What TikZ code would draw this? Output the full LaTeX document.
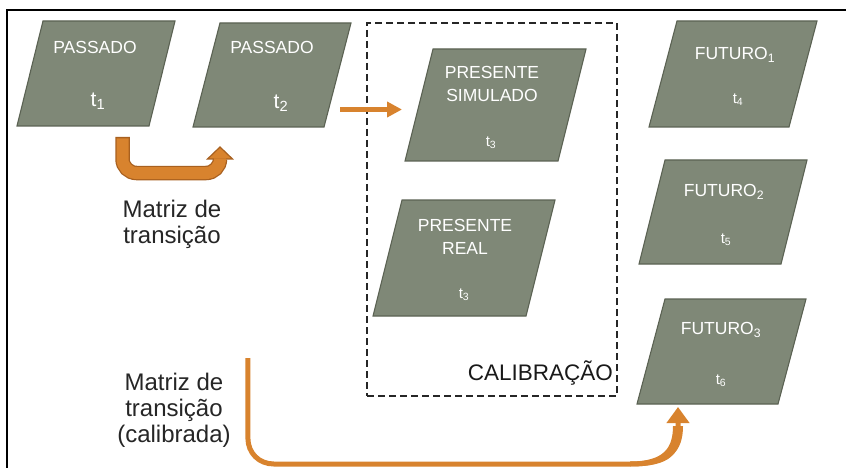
\documentclass[tikz,border=0pt]{standalone}
\usepackage{fontspec}
\setmainfont{Liberation Sans}
\usetikzlibrary{calc,arrows.meta}
\definecolor{pfill}{HTML}{7F8877}
\definecolor{pline}{HTML}{5B6253}
\definecolor{orng}{HTML}{D8832E}
\definecolor{orngd}{HTML}{A8601F}
\newcommand{\paraShape}[6]{%
  \node[pbox, minimum width=#4, minimum height=#5] (#1) at (#2,#3) {};
  \draw[pshape] ([xshift=#6]#1.north west) -- (#1.north east) -- ([xshift=-#6]#1.south east) -- (#1.south west) -- cycle;
}
\begin{document}
\begin{tikzpicture}[x=1pt,y=-1pt,
  pbox/.style={rectangle, draw=none, inner sep=0pt, outer sep=0pt},
  pshape/.style={fill=pfill, draw=pline, line width=1.1pt, line join=miter},
  ptitle/.style={text=white, inner sep=0pt, align=center, font=\fontsize{17.5}{23}\selectfont},
  tbig/.style={text=white, inner sep=0pt, font=\fontsize{21}{21}\selectfont},
  tsmall/.style={text=white, inner sep=0pt, font=\fontsize{15}{15}\selectfont},
  blabel/.style={text=black!85, inner sep=0pt, align=center, font=\fontsize{24}{26}\selectfont},
  dashbox/.style={rectangle, draw=black!85, line width=1.8pt, dash pattern=on 7pt off 4pt, inner sep=0pt},
  thinarrow/.style={draw=orng, line width=5pt, -{Triangle[length=15pt,width=15pt]}},
  longarrow/.style={draw=orng, line width=5pt, -{Triangle[length=16pt,width=22pt]}}
]
\useasboundingbox (0,0) rectangle (846,468);
\fill[white] (0,0) rectangle (846,468);
% frame
\draw[line width=2.5pt, black] (7,468) -- (7,10) -- (846,10);

% dashed calibration box
\node[dashbox, minimum width=250pt, minimum height=373pt] (cal) at (492,209.5) {};
\node[inner sep=0pt, anchor=base east, font=\fontsize{22.5}{24}\selectfont, text=black!90] (calt) at (613,380) {CALIBRAÇÃO};

% parallelograms
\paraShape{p1}{96}{73.5}{158}{105}{26}
\paraShape{p2}{272}{75}{158}{104}{27}
\paraShape{p3}{495.5}{105}{181}{112}{28}
\paraShape{p4}{464}{258}{182}{116}{29}
\paraShape{p5}{733}{74}{168}{106}{28}
\paraShape{p6}{723}{212}{168}{104}{26}
\paraShape{p7}{721.5}{351.5}{169}{105}{28}

% texts inside
\node[ptitle] (p1a) at (95,47) {PASSADO};
\node[tbig] (p1b) at (98,101) {t\textsubscript{1}};
\node[ptitle] (p2a) at (272,47) {PASSADO};
\node[tbig] (p2b) at (281,103) {t\textsubscript{2}};
\node[ptitle] (p3a) at (492,83.5) {PRESENTE\\SIMULADO};
\node[tsmall] (p3b) at (491,143) {t\textsubscript{3}};
\node[ptitle] (p4a) at (465,236.5) {PRESENTE\\REAL};
\node[tsmall] (p4b) at (464,295) {t\textsubscript{3}};
\node[ptitle] (p5a) at (735,55) {FUTURO\textsubscript{1}};
\node[tsmall] (p5b) at (738,100) {t\textsubscript{4}};
\node[ptitle] (p6a) at (724,192) {FUTURO\textsubscript{2}};
\node[tsmall] (p6b) at (726,240) {t\textsubscript{5}};
\node[ptitle] (p7a) at (721,330) {FUTURO\textsubscript{3}};
\node[tsmall] (p7b) at (721,381) {t\textsubscript{6}};

% labels
\node[blabel, anchor=north] (m1) at (172,200) {Matriz de\\transição};
\node[blabel, anchor=north] (m2) at (174,373) {Matriz de\\transição\\(calibrada)};

% arrow 1: U-shaped block arrow from p1 to p2
\coordinate (a1s) at ($(p1.south)+(26.5,11)$);
\coordinate (a1e) at ($(p2.south)+(-52,20)$);
\draw[orngd, line width=14.5pt, rounded corners=14pt] (a1s) |- ($(a1e)+(0,26)$) -- ($(a1e)+(0,12)$);
\filldraw[fill=orng, draw=orngd, line width=1.2pt, line join=miter] ($(a1e)+(-12.5,12)$) -- (a1e) -- ($(a1e)+(12.5,12)$) -- cycle;
\draw[orng, line width=12pt, rounded corners=14pt] ($(a1s)+(0,1.3)$) |- ($(a1e)+(0,26)$) -- ($(a1e)+(0,11.4)$);

% arrow 2: p2 to p3
\coordinate (a2s) at ($(p2.east)+(-11,34.5)$);
\coordinate (a2e) at ($(p3.west)+(-3,4.5)$);
\draw[thinarrow] (a2s) -- (a2e);

% arrow 3: calibrated matrix to p7
\coordinate (a3s) at ($(m2.north east)+(17,-15)$);
\coordinate (a3e) at ($(p7.south)+(-43.5,3)$);
\coordinate (a3c) at ($(a3s |- a3e)+(0,57)$);
% widening of the last bend
\fill[orng] ($(a3e)+(-48,59.5)$) .. controls ($(a3e)+(-7,59.5)$) and ($(a3e)+(5,44)$) .. ($(a3e)+(5,19)$)
  -- ($(a3e)+(-5,19)$) .. controls ($(a3e)+(-5,41)$) and ($(a3e)+(-14,54.5)$) .. ($(a3e)+(-48,54.5)$) -- cycle;
\draw[longarrow] (a3s) -- ($(a3c)+(0,-26)$) .. controls ($(a3c)+(0,-11)$) and ($(a3c)+(11,0)$) .. ($(a3c)+(26,0)$)
  -- ($(a3e)+(-48,57)$) .. controls ($(a3e)+(-8,57)$) and ($(a3e)+(0,45)$) .. ($(a3e)+(0,22)$) -- (a3e);
\end{tikzpicture}
\end{document}
